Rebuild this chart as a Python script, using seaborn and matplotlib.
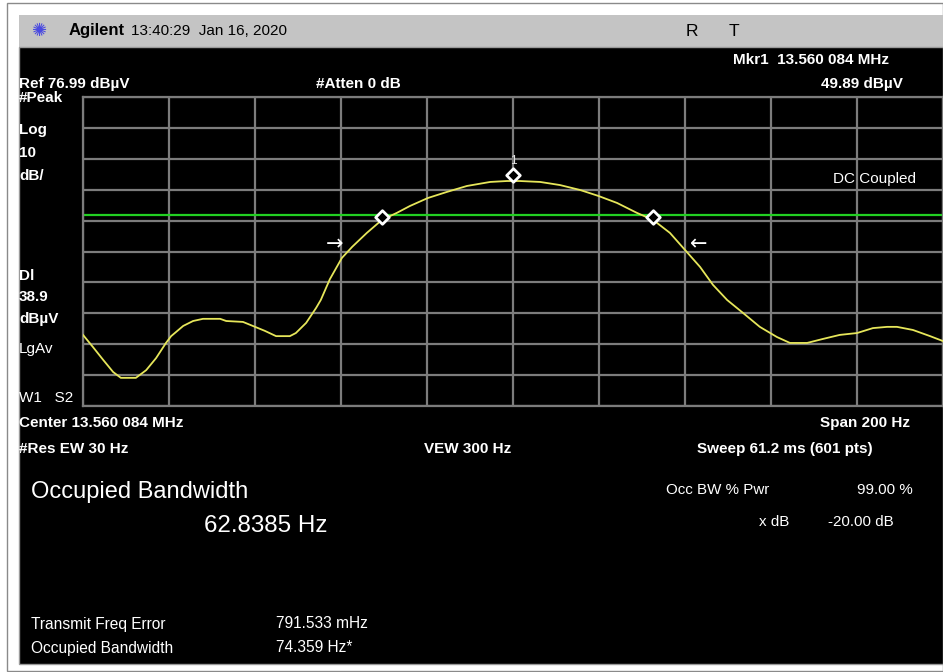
import numpy as np
import pandas as pd
import matplotlib
matplotlib.use("Agg")
import matplotlib.pyplot as plt
from matplotlib.patches import Rectangle
import seaborn as sns

freq_hz = [-100.0, -97.7, -95.3, -93.0, -91.2, -87.7, -85.3, -83.0, -80.7, -79.5,
           -76.7, -74.4, -72.1, -68.1, -66.7, -62.8, -60.5, -57.7, -55.1, -51.9,
           -50.5, -48.1, -45.8, -44.7, -42.6, -39.8, -37.4, -34.0, -30.5, -27.0,
           -24.0, -19.8, -15.3, -10.7, -5.3, -1.4, 1.6, 6.3, 10.9, 15.6,
           19.8, 24.2, 28.8, 32.6, 36.5, 40.0, 43.5, 46.5, 49.8, 53.5,
           57.4, 61.4, 64.4, 68.4, 72.1, 76.0, 80.0, 83.7, 87.0, 89.3,
           93.0, 97.0, 100.0]
level_dbuv = [0.0, -3.9, -8.1, -12.0, -13.9, -13.9, -11.4, -7.5, -2.6, -0.4,
              2.9, 4.5, 5.2, 5.2, 4.5, 4.2, 2.9, 1.3, -0.4, -0.4,
              0.6, 3.9, 8.7, 11.3, 18.0, 24.9, 28.5, 33.0, 37.2, 39.5,
              41.7, 44.3, 46.3, 48.2, 49.5, 49.8, 49.8, 49.5, 48.5, 46.9,
              45.0, 42.7, 39.5, 37.2, 33.0, 27.5, 22.0, 16.2, 11.3, 7.1,
              2.6, -0.7, -2.6, -2.6, -1.3, 0.0, 0.6, 2.2, 2.6, 2.6,
              1.6, -0.4, -2.0]
marker_freq = [-30.5, 0.0, 32.6]
marker_level = [38.2, 51.6, 38.2]
display_line = 38.9
ref_level = 76.99
db_per_div = 10
span_hz = 200
arrow_freq = [-41.4, 43.3]
arrow_level = 29.4

W, H = 943, 672
fig = plt.figure(figsize=(W / 100, H / 100), dpi=100, facecolor="white")

def fx(x):
    return x / W

def fy(y):
    return 1 - y / H

SANS = ["Liberation Sans", "DejaVu Sans"]

# frame, title bar, black screen
fig.patches.append(Rectangle((fx(7), fy(671)), fx(943) - fx(7), fy(3) - fy(671),
                             transform=fig.transFigure, facecolor="white",
                             edgecolor="#8a8a8a", lw=1.0, zorder=0))
fig.patches.append(Rectangle((fx(19), fy(47)), fx(943) - fx(19), fy(15) - fy(47),
                             transform=fig.transFigure, facecolor="#c4c4c4",
                             edgecolor="none", zorder=1))
fig.patches.append(Rectangle((fx(19), fy(664)), fx(943) - fx(19), fy(47) - fy(664),
                             transform=fig.transFigure, facecolor="black",
                             edgecolor="#9a9a9a", lw=1.0, zorder=1))

def t(x, y, s, size=11, weight="normal", color="white", ha="left", fam=SANS, **kw):
    fig.text(fx(x), fy(y), s, fontsize=size, fontweight=weight, color=color,
             ha=ha, va="center", family=fam, zorder=5, **kw)

# title bar
t(40, 31, "✺", size=13, color="#4a4ae0", ha="center", fam=["DejaVu Sans"])
t(69, 31, "Agilent", size=12, weight="bold", color="black")
t(131, 31, "13:40:29  Jan 16, 2020", size=11, color="black")
t(686, 32, "R", size=12.5, color="black")
t(729, 32, "T", size=12.5, color="black")

# header
t(733, 60, "Mkr1  13.560 084 MHz", size=11, weight="bold")
t(19, 84, "Ref 76.99 dBµV", size=11, weight="bold")
t(316, 84, "#Atten 0 dB", size=11, weight="bold")
t(903, 84, "49.89 dBµV", size=11, weight="bold", ha="right")

# left annotations
for y, s, wgt in [(98, "#Peak", "bold"), (130, "Log", "bold"), (153, "10", "bold"),
                  (176, "dB/", "bold"), (276, "Dl", "bold"), (297, "38.9", "bold"),
                  (319, "dBµV", "bold"), (349, "LgAv", "normal"),
                  (398, "W1   S2", "normal")]:
    t(19, y, s, size=11, weight=wgt)

# below grid
t(19, 423, "Center 13.560 084 MHz", size=11, weight="bold")
t(910, 423, "Span 200 Hz", size=11, weight="bold", ha="right")
t(19, 449, "#Res EW 30 Hz", size=11, weight="bold")
t(424, 449, "VEW 300 Hz", size=11, weight="bold")
t(697, 449, "Sweep 61.2 ms (601 pts)", size=11, weight="bold")

t(31, 492, "Occupied Bandwidth", size=17)
t(204, 526, "62.8385 Hz", size=17.4)
t(666, 490, "Occ BW % Pwr", size=10.9)
t(913, 490, "99.00 %", size=10.9, ha="right")
t(759, 522, "x dB", size=10.9)
t(828, 522, "-20.00 dB", size=10.9)
t(31, 624, "Transmit Freq Error", size=11.2)
t(276, 624, "791.533 mHz", size=11.2)
t(31, 648, "Occupied Bandwidth", size=11.2)
t(276, 648, "74.359 Hz*", size=11.2)

# ---------------- trace area ----------------
ax = fig.add_axes([fx(83), fy(406), fx(943) - fx(83), fy(97) - fy(406)])
ax.set_zorder(3)
ax.set_facecolor("black")
bottom = ref_level - 10 * db_per_div
ax.set_xlim(-span_hz / 2, span_hz / 2)
ax.set_ylim(bottom, ref_level)
ax.set_xticks(np.linspace(-span_hz / 2, span_hz / 2, 11))
ax.set_yticks(np.linspace(bottom, ref_level, 11))
ax.grid(True, color="#7c7c7c", lw=1.6)
ax.tick_params(length=0, labelbottom=False, labelleft=False)
for sp in ax.spines.values():
    sp.set_color("#7c7c7c")
    sp.set_linewidth(1.6)
ax.set_axisbelow(True)

df = pd.DataFrame({"freq": freq_hz, "level": level_dbuv})
ax.axhline(display_line, color="#22d022", lw=1.6, zorder=2)
sns.lineplot(data=df, x="freq", y="level", ax=ax, color="#e6e65a", lw=1.3,
             zorder=3, legend=False)
mk = pd.DataFrame({"freq": marker_freq, "level": marker_level})
sns.scatterplot(data=mk, x="freq", y="level", ax=ax, marker="D", s=48,
                facecolor="black", edgecolor="white", linewidth=2, zorder=4,
                legend=False)
ax.text(marker_freq[1], marker_level[1] + 4.8, "1", color="#e0e0e0", fontsize=8.5,
        ha="center", va="center", family=SANS)
ax.text(arrow_freq[0], arrow_level, "→", color="white", fontsize=15,
        ha="center", va="center", family=["DejaVu Sans"])
ax.text(arrow_freq[1], arrow_level, "←", color="white", fontsize=15,
        ha="center", va="center", family=["DejaVu Sans"])
ax.text(0.9686, 0.735, "DC Coupled", transform=ax.transAxes, color="white",
        fontsize=11, ha="right", va="center", family=SANS)
ax.set_xlabel("")
ax.set_ylabel("")

fig.savefig("out.png", dpi=100, facecolor="white")
